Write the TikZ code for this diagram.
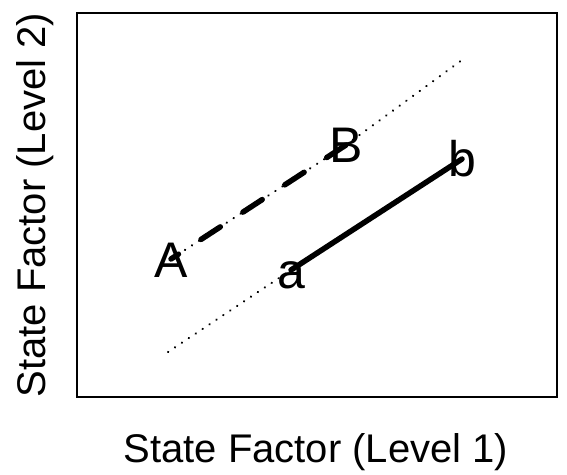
\documentclass[tikz,border=0pt]{standalone}
\usepackage{fontspec}
\setmainfont{Liberation Sans}
\begin{document}
\begin{tikzpicture}[x=1bp,y=-1bp,
  axislabel/.style={inner sep=0pt,anchor=base,font=\fontsize{40bp}{48bp}\selectfont},
  ptlabel/.style={inner sep=0pt,anchor=base,yshift=-18bp,font=\fontsize{50bp}{60bp}\selectfont},
  thindot/.style={line width=2.2bp,line cap=round,dash pattern=on 0.3bp off 8bp},
  thickline/.style={line width=5.5bp,line cap=round},
  dashdotline/.style={line width=5.5bp,line cap=round,dash pattern=on 23bp off 27bp}]
\useasboundingbox (0,0) rectangle (567,475);
\draw[line width=1.8bp] (77,13) rectangle (557,397);
% points
\coordinate (pA) at (171,259);
\coordinate (pB) at (346,145);
\coordinate (pa) at (291,270);
\coordinate (pb) at (462,159);
\coordinate (d1) at (168,352);
\coordinate (d2) at (462,60);
% dotted extensions
\draw[thindot] (d1) -- (pa);
\draw[thindot] (pB) -- (d2);
\draw[thindot] (pA) -- (pB);
% segments
\draw[dashdotline] (pB) -- (pA);
\draw[thickline] (pa) -- (pb);
% labels
\node[ptlabel] (lA) at (pA) {A};
\node[ptlabel] (lB) at (pB) {B};
\node[ptlabel] (la) at (pa) {a};
\node[ptlabel] (lb) at (pb) {b};
% axis labels
\node[axislabel] (xl) at (316,462) {State Factor (Level 1)};
\node[axislabel,rotate=90] (yl) at (45,205) {State Factor (Level 2)};
\end{tikzpicture}
\end{document}
